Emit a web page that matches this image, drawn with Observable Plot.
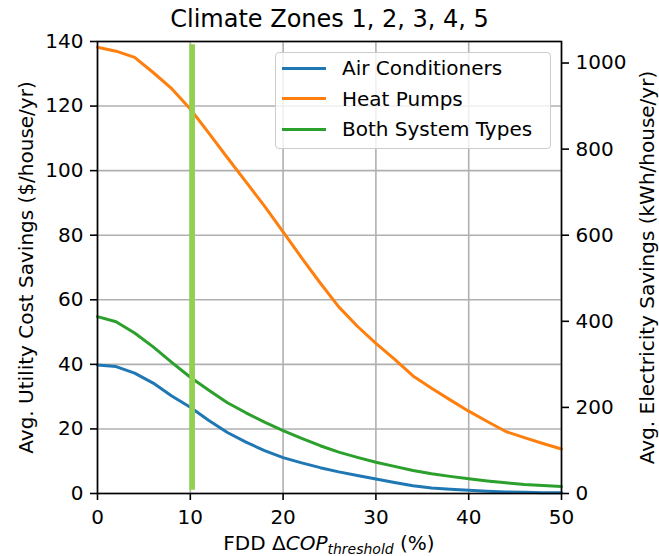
<!DOCTYPE html>
<html>
<head>
<meta charset="utf-8">
<script src="https://cdn.jsdelivr.net/npm/d3@7"></script>
<script src="https://cdn.jsdelivr.net/npm/@observablehq/plot@0.6"></script>
<style>
  html, body { margin: 0; padding: 0; background: white; }
  #wrap { position: relative; width: 659px; height: 556px; font-family: "DejaVu Sans", sans-serif; }
  #legend { position: absolute; left: 275px; top: 52px; width: 276px; height: 97px;
    background: rgba(255,255,255,0.8); border: 1.6px solid #cccccc; border-radius: 4px; box-sizing: border-box; }
  .lg-row { position: absolute; left: 0; height: 0; }
  .lg-sw { position: absolute; left: 6px; width: 44px; height: 3px; top: -1.5px; }
  .lg-tx { position: absolute; left: 66px; top: -11px; font-size: 20px; line-height: 22px; white-space: nowrap; color: #000; }
</style>
</head>
<body>
<div id="wrap"><div id="legend"></div></div>
<script>
// ---- data ----
const titleText = "Climate Zones 1, 2, 3, 4, 5";
const yLabelLeft = "Avg. Utility Cost Savings ($/house/yr)";
const yLabelRight = "Avg. Electricity Savings (kWh/house/yr)";
const xs = [0,2,4,6,8,10,12,14,16,18,20,22,24,26,28,30,32,34,36,38,40,42,44,46,48,50];
const airConditioners = [39.8,39.3,37.3,34.2,30.2,26.7,22.6,18.9,15.9,13.3,11.1,9.5,8.0,6.7,5.6,4.5,3.4,2.4,1.7,1.3,1.0,0.7,0.5,0.35,0.25,0.2];
const heatPumps = [138.2,137.0,135.1,130.4,125.4,119.1,111.6,104.0,96.5,89.0,81.0,73.0,65.2,57.8,51.8,46.5,41.6,36.4,32.6,29.0,25.5,22.3,19.2,17.3,15.5,13.8];
const bothSystems = [54.8,53.2,49.7,45.4,40.6,36.0,32.0,28.1,25.0,22.1,19.5,17.1,14.8,12.8,11.2,9.7,8.4,7.1,6.1,5.3,4.6,3.9,3.3,2.8,2.5,2.2];
const seriesNames = ["Air Conditioners", "Heat Pumps", "Both System Types"];
const seriesColors = ["#1f77b4", "#ff7f0e", "#2ca02c"];
const xTicks = [0,10,20,30,40,50];
const yTicks = [0,20,40,60,80,100,120,140];
const kwhTicks = [0,200,400,600,800,1000];
const kwhPerDollar = 7.5;
const thresholdX = [10.2];
const thresholdSpan = [1, 139];

const seriesValues = [airConditioners, heatPumps, bothSystems];
const rows = seriesNames.flatMap((name, s) => xs.map((x, i) => ({x, v: seriesValues[s][i], series: name})));

const gridStyle = {stroke: "#b0b0b0", strokeOpacity: 1, strokeWidth: 1.6};
const centered = {textAnchor: "middle", lineAnchor: "middle", fill: "black"};

const plot = Plot.plot({
  width: 659, height: 556,
  marginLeft: 97, marginRight: 98, marginTop: 41, marginBottom: 63,
  style: {fontFamily: "DejaVu Sans", fontSize: "20px", background: "white", color: "black"},
  x: {domain: [0, 50]},
  y: {domain: [0, 140]},
  color: {domain: seriesNames, range: seriesColors},
  marks: [
    Plot.gridX(xTicks, gridStyle),
    Plot.gridY(yTicks, gridStyle),
    Plot.line(rows, {x: "x", y: "v", z: "series", stroke: "series", strokeWidth: 3, strokeLinejoin: "round"}),
    Plot.ruleX(thresholdX, {x: d => d, y1: thresholdSpan[0], y2: thresholdSpan[1], stroke: "#92d050", strokeWidth: 5.6}),
    Plot.frame({stroke: "black", strokeWidth: 1.6}),
    Plot.axisX(xTicks, {anchor: "bottom", tickSize: 7, tickPadding: 9, strokeWidth: 1.6, label: null}),
    Plot.axisY(yTicks, {anchor: "left", tickSize: 7, tickPadding: 7, strokeWidth: 1.6, label: null}),
    Plot.axisY(kwhTicks.map(k => k / kwhPerDollar), {anchor: "right", tickSize: 7, tickPadding: 7, strokeWidth: 1.6, label: null,
      tickFormat: d => String(Math.round(d * kwhPerDollar))}),
    Plot.text([titleText], {...centered, frameAnchor: "top", dy: -22, fontSize: 24, text: d => d}),
    Plot.text([yLabelLeft], {...centered, frameAnchor: "left", dx: -71, rotate: -90, fontSize: 20, text: d => d}),
    Plot.text([yLabelRight], {...centered, frameAnchor: "right", dx: 86, rotate: -90, fontSize: 20, text: d => d})
  ]
});

// x-axis label with italic / subscript parts
const xs_ = plot.scale("x");
const xl = d3.select(plot).append("text")
  .attr("x", xs_.apply(25)).attr("y", 550)
  .attr("text-anchor", "middle").attr("font-size", 20)
  .attr("font-family", "DejaVu Sans").attr("fill", "black");
xl.append("tspan").text("FDD Δ");
xl.append("tspan").attr("font-style", "italic").text("COP");
xl.append("tspan").attr("font-style", "italic").attr("font-size", 14).attr("dy", 4).text("threshold");
xl.append("tspan").attr("dy", -4).text(" (%)");

const wrap = document.getElementById("wrap");
wrap.insertBefore(plot, wrap.firstChild);

// legend
const lg = document.getElementById("legend");
seriesNames.forEach((name, i) => {
  const row = document.createElement("div");
  row.className = "lg-row";
  row.style.top = (15 + i * 30.5) + "px";
  const sw = document.createElement("div");
  sw.className = "lg-sw";
  sw.style.background = seriesColors[i];
  const tx = document.createElement("div");
  tx.className = "lg-tx";
  tx.textContent = name;
  row.appendChild(sw); row.appendChild(tx);
  lg.appendChild(row);
});
</script>
</body>
</html>
